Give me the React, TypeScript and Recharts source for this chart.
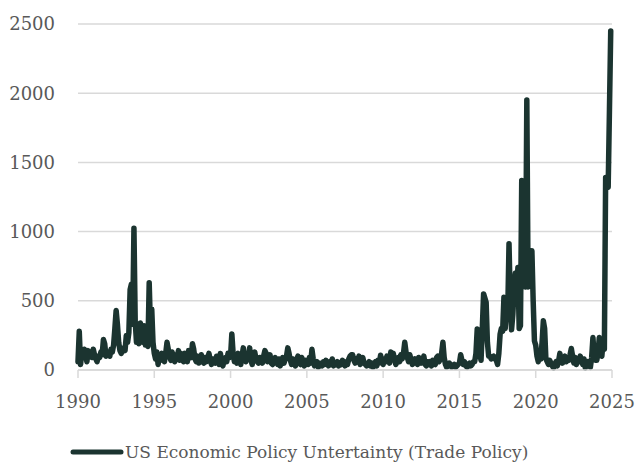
import { LineChart, Line, XAxis, YAxis, CartesianGrid, Legend } from "recharts";

// Trade policy uncertainty index, monthly from Jan 1990 (one row per year)
const tpu1990s = [
  60, 280, 40, 120, 90, 150, 110, 60, 140, 100, 120, 90,
  150, 110, 80, 60, 100, 90, 130, 110, 220, 190, 100, 130,
  120, 100, 150, 130, 180, 300, 430, 330, 200, 140, 120, 150,
  160, 140, 250, 200, 270, 580, 620, 330, 1024, 350, 200, 330,
  190, 340, 300, 200, 320, 180, 250, 170, 630, 300, 440, 200,
  120, 80, 130, 40, 110, 70, 120, 90, 60, 120, 200, 150,
  100, 70, 130, 80, 60, 110, 90, 140, 70, 120, 80, 60,
  120, 90, 60, 140, 110, 90, 190, 150, 80, 60, 100, 50,
  70, 110, 60, 50, 90, 60, 80, 120, 70, 40, 80, 60,
  50, 100, 70, 40, 120, 60, 30, 80, 90, 60, 120, 90,
];

const tpu2000s = [
  100, 260, 120, 60, 90, 50, 120, 70, 40, 100, 160, 80,
  60, 110, 90, 160, 70, 40, 100, 130, 80, 60, 50, 90,
  70, 50, 100, 140, 120, 60, 80, 110, 50, 40, 70, 90,
  60, 40, 80, 30, 60, 90, 50, 80, 100, 160, 120, 70,
  40, 80, 60, 30, 70, 100, 50, 40, 90, 60, 30, 70,
  60, 40, 90, 50, 150, 80, 30, 40, 60, 20, 50, 40,
  30, 60, 40, 70, 50, 30, 60, 40, 80, 30, 50, 40,
  60, 30, 50, 40, 70, 50, 30, 60, 40, 80, 100, 110,
  110, 70, 50, 80, 60, 100, 40, 60, 90, 50, 40, 30,
  40, 60, 30, 50, 20, 40, 60, 30, 70, 50, 107, 60,
];

const tpu2010s = [
  40, 80, 60, 100, 70, 50, 130, 90, 120, 70, 40, 60,
  90, 60, 110, 80, 120, 200, 130, 90, 60, 110, 70, 40,
  50, 80, 60, 40, 90, 70, 50, 60, 100, 40, 30, 60,
  40, 60, 30, 70, 50, 40, 90, 100, 60, 80, 120, 200,
  90, 40, 20, 30, 50, 40, 20, 30, 40, 20, 30, 40,
  50, 110, 70, 40, 60, 30, 20, 40, 50, 30, 40, 60,
  60, 120, 297, 280, 120, 70, 300, 550, 520, 490, 200, 100,
  100, 80, 90, 100, 80, 70, 40, 120, 260, 300, 280, 525,
  300, 430, 420, 913, 500, 290, 400, 600, 700, 560, 740, 300,
  320, 1370, 620, 720, 600, 1950, 600, 620, 700, 862, 500, 210,
];

const tpu2020s = [
  180, 100, 60, 130, 80, 200, 355, 300, 80, 60, 40, 70,
  50, 30, 15, 40, 60, 30, 65, 120, 70, 50, 80, 100,
  60, 90, 70, 110, 155, 100, 50, 90, 40, 80, 60, 100,
  70, 40, 80, 15, 50, 60, 30, 20, 90, 234, 100, 70,
  70, 120, 234, 120, 100, 200, 150, 1390, 1360, 1320, 1880, 2450,
];

const startYear = 1990;
const yearTicks = [1990, 1995, 2000, 2005, 2010, 2015, 2020, 2025];
const valueTicks = [0, 500, 1000, 1500, 2000, 2500];
const seriesName = "US Economic Policy Untertainty (Trade Policy)";

const chartData = [...tpu1990s, ...tpu2000s, ...tpu2010s, ...tpu2020s].map(
  (v, i) => ({ t: startYear + i / 12, tpu: v })
);

const LINE_COLOR = "#1b3430";
const TEXT_COLOR = "#595959";
const GRID_COLOR = "#d9d9d9";
const FONT = "'DejaVu Serif', serif";

function LegendRow() {
  return (
    <div style={{ display: "flex", alignItems: "center", fontFamily: FONT, fontSize: 17, color: TEXT_COLOR }}>
      <svg width={54} height={10} style={{ marginRight: 1 }}>
        <line x1={3} y1={5} x2={51} y2={5} stroke={LINE_COLOR} strokeWidth={5} strokeLinecap="round" />
      </svg>
      <span>{seriesName}</span>
    </div>
  );
}

export default function App() {
  return (
    <div style={{ position: "absolute", left: 0, top: 0, background: "#fff" }}>
      <LineChart width={638} height={464} data={chartData} margin={{ top: 24, right: 26, left: 0, bottom: 24 }}>
        <CartesianGrid horizontal vertical={false} stroke={GRID_COLOR} strokeWidth={1.5} />
        <XAxis
          dataKey="t"
          type="number"
          domain={[1990, 2025]}
          ticks={yearTicks}
          height={50}
          tick={{ fill: TEXT_COLOR, fontSize: 18, fontFamily: FONT }}
          tickLine={{ stroke: GRID_COLOR, strokeWidth: 1.5 }}
          axisLine={{ stroke: GRID_COLOR, strokeWidth: 1.5 }}
          tickSize={8}
          tickMargin={17}
        />
        <YAxis
          domain={[0, 2500]}
          ticks={valueTicks}
          width={78}
          tick={{ fill: TEXT_COLOR, fontSize: 18, fontFamily: FONT }}
          tickLine={false}
          axisLine={false}
          tickSize={0}
          tickMargin={23}
        />
        <Legend
          verticalAlign="bottom"
          content={() => <LegendRow />}
          wrapperStyle={{ left: 70, bottom: 2, width: "auto" }}
        />
        <Line
          type="linear"
          dataKey="tpu"
          name={seriesName}
          stroke={LINE_COLOR}
          strokeWidth={5.5}
          strokeLinejoin="round"
          strokeLinecap="round"
          dot={false}
          isAnimationActive={false}
        />
      </LineChart>
    </div>
  );
}
